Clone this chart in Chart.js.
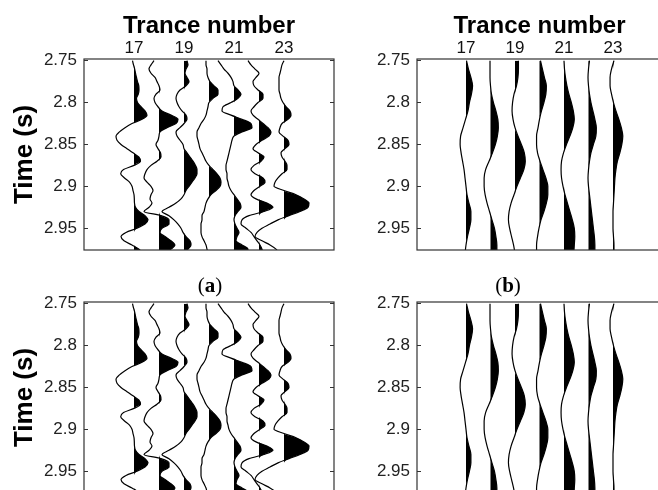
<!DOCTYPE html>
<html>
<head>
<meta charset="utf-8">
<script src="https://cdn.jsdelivr.net/npm/chart.js@4.4.0/dist/chart.umd.min.js"></script>
<style>
  html, body { margin: 0; padding: 0; background: #fff; width: 658px; height: 490px; overflow: hidden; }
  canvas { position: absolute; }
  .caption { position: absolute; font-family: 'Liberation Serif', serif; font-size: 21px; line-height: 24px; color: #000; transform: translateX(-50%); }
</style>
</head>
<body>
<canvas id="topLeft" width="344" height="252" style="left:0;top:0"></canvas>
<canvas id="topRight" width="339" height="252" style="left:333px;top:0"></canvas>
<canvas id="bottomLeft" width="344" height="248" style="left:0;top:252px"></canvas>
<canvas id="bottomRight" width="339" height="248" style="left:333px;top:252px"></canvas>
<div class="caption" style="left:210px;top:273px">(<b>a</b>)</div>
<div class="caption" style="left:508px;top:273px">(<b>b</b>)</div>
<script>
// trace numbers and axis ticks
const traceNumbers = [17, 18, 19, 20, 21, 22, 23];
const traceTicks = [17, 19, 21, 23];
const timeTicks = [2.75, 2.8, 2.85, 2.9, 2.95];
const timeMin = 2.748;
const timeMax = 2.976;
const gain = 0.04; // amplitude -> trace spacing

// panel (a): raw traces, sampled every 5 ms
const timesA = [2.750, 2.755, 2.760, 2.765, 2.770, 2.775, 2.780, 2.785, 2.790, 2.795,
  2.800, 2.805, 2.810, 2.815, 2.820, 2.825, 2.830, 2.835, 2.840, 2.845,
  2.850, 2.855, 2.860, 2.865, 2.870, 2.875, 2.880, 2.885, 2.890, 2.895,
  2.900, 2.905, 2.910, 2.915, 2.920, 2.925, 2.930, 2.935, 2.940, 2.945,
  2.950, 2.955, 2.960, 2.965, 2.970, 2.975, 2.980];
const a17 = [-1.5, -0.5, 0.7, 1.5, 2.5, 3.5, 4.8, 5, 4.3, 2.5,
  3.5, 7, 11, 13, 8, -2, -9, -14.5, -18, -17,
  -13, -7, -1, 4.8, 6.5, 0, -10.5, -13.3, -9.5, -4.5,
  -2, -1, 0, 0.3, 0.5, 1.5, 5, 11, 14, 11,
  3, -8, -13, -10, -2, 5, 8];
const a18 = [-5, -8, -10, -8, -4, -2, 0, 1, -3, -5,
  -4, -1, 3, 12, 19, 17, 8, 1, 0, -1,
  -3, -1, 1.5, 2, -2, -8, -12, -14, -15, -12,
  -8, -6, -8, -9, -7, -10, -15, 2, 10, 10,
  3, 1, 6, 12, 16, 12, 6];
const a19 = [3, 4, 2, 1, 3, 5, 2, -4, -7, -8,
  -7, -5, -2, 2, 3, 0, -4, -8, -7, -4,
  -1, 0, 3, 6, 9, 11.5, 13, 13, 11, 8,
  5, 2, 0, -3, -8, -15, -22, -15, -10, -6,
  -3, -1, 2, 6, 7, 4, 1];
const a20 = [-3, -3, -2, -2, -1, 1, 5, 9, 9, 4,
  0, -1, -2, -3, -5, -8, -10, -12, -12, -11,
  -10, -9, -7, -5, -3, 0, 4, 8, 11, 12,
  11, 7, 2, -1, -3, -4, -5, -7, -7, -8,
  -8, -8, -7, -5, -3, -2, -1];
const a21 = [-16, -13, -10, -6, -3, -1, 0, 4, 7, 4,
  -3, -11, -12, -3, 8, 17, 18, 8, 0, -2,
  -3, -4, -5, -6, -7, -8, -8, -7, -7, -6,
  -5, -3, 0, 3, 6, 7, 4, 1, 0, 1,
  3, 5, 3, 2, 8, 14, 12];
const a22 = [-11, -8, -4, 0, -3, -6, -5, -1, 4, 4,
  -1, -5, -8, -6, -1, 4, 9, 12, 10, 3,
  -3, -6, -1, 5, 2, -5, -8, -4, 4, 6,
  1, -5, -8, -3, 8, 14, 5, -10, -17, -18,
  -13, -8, -5, -2, 1, 3, 4];
const a23 = [0, -2, -3, -4, -5, -5, -5, -5, -4, -3,
  -1, 2, 6, 7, 4, -2, -4, -5, -1, 4,
  5, 1, -3, -2, 1, 3, 3, -2, -6, -9,
  -10, 0, 12, 20, 25, 24, 16, 5, -6, -14,
  -22, -27, -29, -22, -14, -8, -5];

// panel (b): processed traces, sampled every 10 ms
const timesB = [2.75, 2.76, 2.77, 2.78, 2.79, 2.80, 2.81, 2.82, 2.83, 2.84, 2.85, 2.86,
  2.87, 2.88, 2.89, 2.90, 2.91, 2.92, 2.93, 2.94, 2.95, 2.96, 2.97, 2.98];
const b17 = [0.5, 2.5, 5, 6.7, 5.5, 3.5, 2, -0.5, -3, -5.5, -6, -5,
  -3.5, -2, -1, 0, 1, 3, 5, 5, 3.5, 1.5, 0, -1];
const b18 = [-0.5, -0.5, -0.5, 0, 1, 3, 5.5, 7.5, 8, 7, 5, 2,
  -1.5, -5, -6.5, -6.5, -5.5, -3.5, -1, 1.5, 4, 5.5, 6.5, 6.5];
const b19 = [3.5, 3.5, 3, 1.5, -1, -2.5, -3, -2, 0, 3, 6.5, 9.5,
  10.5, 9, 5.5, 2, -1, -4, -6, -6.7, -5.5, -3.5, -1.5, 0];
const b20 = [1, 3, 5, 7, 6.5, 4.5, 2, 0, -1.5, -3, -3, -2,
  0.5, 3.5, 6.5, 8.5, 8.5, 7, 4.5, 1.5, -0.5, -2, -3, -3];
const b21 = [0, 0.5, 1.5, 3, 5, 7.5, 9.5, 10.5, 9, 6, 2.5, -0.5,
  -2.5, -3, -2.5, -1, 1, 3.5, 6, 8.5, 10.5, 11, 10.5, 10];
const b22 = [1, 0, -0.5, 0, 1, 2.5, 4.5, 6.5, 8, 7.5, 5, 2.5,
  1, 0, -0.5, 0, 1, 2, 3, 4, 5, 6, 6.5, 6.5];
const b23 = [1, -1.5, -3, -3, -1.5, 0.5, 3, 6, 8.5, 10, 9, 7,
  4.5, 3, 2, 1.5, 1, 0.5, 0, 0, 0, 0.5, 1, 1];

const tracesA = [a17, a18, a19, a20, a21, a22, a23];
const tracesB = [b17, b18, b19, b20, b21, b22, b23];

const fontName = "'Liberation Sans', Arial, sans-serif";

// axes box (matlab style)
const boxPlugin = {
    id: 'box',
    afterDraw(chart) {
        const { ctx, chartArea: a } = chart;
        ctx.save();
        ctx.strokeStyle = '#333';
        ctx.lineWidth = 1.2;
        ctx.strokeRect(a.left, a.top, a.right - a.left, a.bottom - a.top);
        ctx.restore();
    }
};

// one wiggle line + one positive-lobe fill per trace
function traceDatasets(times, traces) {
    const sets = [];
    traces.forEach(function (amp, i) {
        const n = traceNumbers[i];
        sets.push({
            data: times.map((t, k) => ({ x: n + Math.max(0, amp[k]) * gain, y: t })),
            borderWidth: 0,
            backgroundColor: '#000',
            fill: { value: n },
            pointRadius: 0,
            cubicInterpolationMode: 'monotone'
        });
        sets.push({
            data: times.map((t, k) => ({ x: n + amp[k] * gain, y: t })),
            borderColor: '#000',
            borderWidth: 1.2,
            fill: false,
            pointRadius: 0,
            cubicInterpolationMode: 'monotone'
        });
    });
    return sets;
}

function makeChart(id, times, traces, isTop, isLeft) {
    const yTicks = s => { s.ticks = timeTicks.map(v => ({ value: v })); };
    new Chart(document.getElementById(id), {
        type: 'line',
        data: { datasets: traceDatasets(times, traces) },
        options: {
            responsive: false,
            animation: false,
            indexAxis: 'y',
            layout: { padding: { top: 0, right: 10, bottom: isTop ? 2 : 7, left: 0 } },
            plugins: {
                legend: { display: false },
                tooltip: { enabled: false }
            },
            scales: {
                x: {
                    type: 'linear',
                    position: 'top',
                    min: 15,
                    max: 25,
                    afterBuildTicks: s => { s.ticks = traceTicks.map(v => ({ value: v })); },
                    afterFit: s => {
                        s.height = isTop ? 59 : 50;
                        s.paddingLeft = 0;
                        s.paddingRight = 0;
                    },
                    ticks: { display: isTop, font: { family: fontName, size: 17 }, color: '#111', padding: 0 },
                    grid: { display: false, drawTicks: false },
                    border: { display: false },
                    title: {
                        display: isTop,
                        text: 'Trance number',
                        color: '#000',
                        font: { family: fontName, size: 24, weight: 'bold' },
                        padding: { top: 12, bottom: 0 }
                    }
                },
                y: {
                    type: 'linear',
                    position: 'left',
                    reverse: true,
                    min: timeMin,
                    max: timeMax,
                    afterBuildTicks: yTicks,
                    afterFit: s => {
                        s.width = 84;
                        s.paddingTop = 0;
                        s.paddingBottom = 0;
                    },
                    ticks: {
                        font: { family: fontName, size: 17 },
                        color: '#222',
                        padding: 11,
                        callback: v => String(v)
                    },
                    grid: { drawOnChartArea: false, tickLength: -4, color: '#333' },
                    border: { display: false },
                    title: {
                        display: isLeft,
                        text: 'Time (s)',
                        color: '#000',
                        font: { family: fontName, size: 26, weight: 'bold' },
                        padding: { top: 9, bottom: 0 }
                    }
                },
                yr: {
                    axis: 'y',
                    type: 'linear',
                    position: 'right',
                    reverse: true,
                    min: timeMin,
                    max: timeMax,
                    afterBuildTicks: yTicks,
                    afterFit: s => {
                        s.width = 0;
                        s.paddingTop = 0;
                        s.paddingBottom = 0;
                    },
                    ticks: { display: false },
                    grid: { drawOnChartArea: false, tickLength: -4, color: '#333' },
                    border: { display: false }
                }
            }
        },
        plugins: [boxPlugin]
    });
}

makeChart('topLeft', timesA, tracesA, true, true);
makeChart('topRight', timesB, tracesB, true, false);
makeChart('bottomLeft', timesA, tracesA, false, true);
makeChart('bottomRight', timesB, tracesB, false, false);
</script>
</body>
</html>
